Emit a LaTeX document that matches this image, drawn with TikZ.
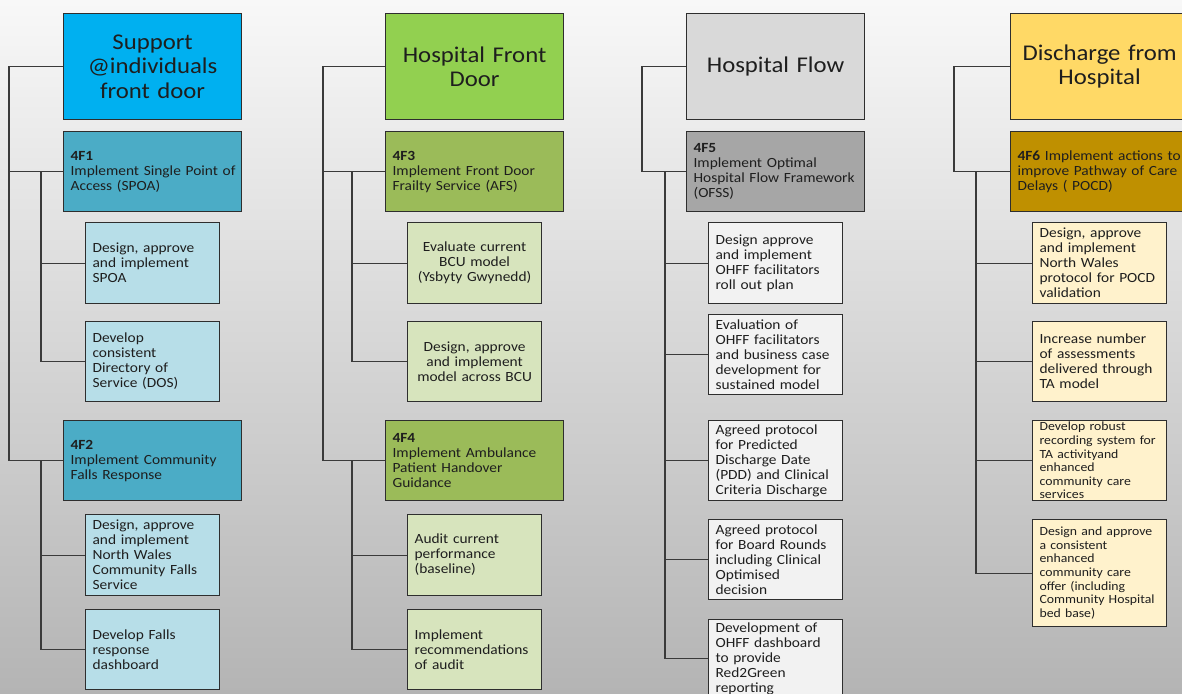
\documentclass[tikz,border=0pt]{standalone}
\usepackage{fontspec}
\setmainfont{Carlito}[FakeStretch=1.1]

\definecolor{bgtop}{HTML}{F8F8F8}
\definecolor{bgbot}{HTML}{B4B4B4}
\definecolor{boxline}{HTML}{2E2E2E}
\definecolor{linkgray}{HTML}{3A3A3A}
\definecolor{inktext}{HTML}{1E1E1E}
% column colours
\definecolor{supphead}{HTML}{00B0F0}
\definecolor{supptask}{HTML}{4BACC6}
\definecolor{suppstep}{HTML}{B7DEE8}
\definecolor{doorhead}{HTML}{92D050}
\definecolor{doortask}{HTML}{9BBB59}
\definecolor{doorstep}{HTML}{D7E4BD}
\definecolor{flowhead}{HTML}{D9D9D9}
\definecolor{flowtask}{HTML}{A6A6A6}
\definecolor{flowstep}{HTML}{F2F2F2}
\definecolor{dischead}{HTML}{FFD966}
\definecolor{disctask}{HTML}{BF9000}
\definecolor{discstep}{HTML}{FFF2CC}

\tikzset{
  headbox/.style={draw=boxline, line width=1.2pt, anchor=north west,
    minimum width=178pt, minimum height=106pt, text width=164pt,
    inner xsep=7pt, align=center, text=inktext,
    font=\fontsize{22.5}{24.5}\selectfont},
  taskbox/.style={draw=boxline, line width=1.2pt, anchor=north west,
    minimum width=178pt, minimum height=80pt, text width=164pt,
    inner xsep=7pt, inner ysep=2pt, align=left, text=inktext,
    font=\fontsize{14}{15}\selectfont},
  stepbox/.style={draw=boxline, line width=1.2pt, anchor=north west,
    minimum width=134pt, minimum height=80pt, text width=120pt,
    inner xsep=7pt, inner ysep=2pt, align=left, text=inktext,
    font=\fontsize{14}{15}\selectfont},
  smallstep/.style={stepbox, inner ysep=0pt, font=\fontsize{12.5}{13.6}\selectfont},
  link/.style={draw=linkgray, line width=1.2pt},
}

\begin{document}
\begin{tikzpicture}[x=1pt,y=-1pt]
  \useasboundingbox (0,0) rectangle (1182,693);
  \clip (0,0) rectangle (1182,693);
  \shade[top color=bgtop, bottom color=bgbot] (0,0) rectangle (1182,693);

  % Support @individuals front door
  \begin{scope}[shift={(63,0)}]
    \node[headbox, fill=supphead] (h1) at (0,13) {Support\\@individuals\\front door};
    \node[taskbox, fill=supptask] (f1) at (0,131) {\textbf{4F1}\\\mbox{Implement Single Point of}\\Access (SPOA)};
    \node[stepbox, fill=suppstep, minimum height=81pt] (s11) at (22,222) {Design, approve\\and implement\\SPOA};
    \node[stepbox, fill=suppstep] (s12) at (22,321) {Develop\\consistent\\Directory of\\Service (DOS)};
    \node[taskbox, fill=supptask] (f2) at (0,420) {\textbf{4F2}\\Implement Community\\Falls Response};
    \node[stepbox, fill=suppstep, minimum height=81pt] (s13) at (22,514) {Design, approve\\and implement\\North Wales\\Community Falls\\Service};
    \node[stepbox, fill=suppstep] (s14) at (22,609) {Develop Falls\\response\\dashboard};
  \end{scope}
  \coordinate (o1) at ([xshift=-54pt]h1.west);
  \coordinate (i1) at ([xshift=-22pt]f1.west);
  \coordinate (i2) at ([xshift=-22pt]f2.west);
  \draw[link] (h1.west) -- (o1) |- (f2.west);
  \draw[link] (o1) |- (f1.west);
  \draw[link] (i1) |- (s11.west);
  \draw[link] (i1) |- (s12.west);
  \draw[link] (i2) |- (s13.west);
  \draw[link] (i2) |- (s14.west);

  % Hospital Front Door
  \begin{scope}[shift={(385,0)}]
    \node[headbox, fill=doorhead] (h2) at (0,13) {Hospital Front\\Door};
    \node[taskbox, fill=doortask] (f3) at (0,131) {\textbf{4F3}\\Implement Front Door\\Frailty Service (AFS)};
    \node[stepbox, fill=doorstep, minimum height=81pt, align=center] (s21) at (22,222) {Evaluate current\\BCU model\\(Ysbyty Gwynedd)};
    \node[stepbox, fill=doorstep, align=center] (s22) at (22,321) {Design, approve\\and implement\\model across BCU};
    \node[taskbox, fill=doortask] (f4) at (0,420) {\textbf{4F4}\\Implement Ambulance\\Patient Handover\\Guidance};
    \node[stepbox, fill=doorstep, minimum height=81pt] (s23) at (22,514) {Audit current\\performance\\(baseline)};
    \node[stepbox, fill=doorstep] (s24) at (22,609) {Implement\\recommendations\\of audit};
  \end{scope}
  \coordinate (o2) at ([xshift=-62pt]h2.west);
  \coordinate (i3) at ([xshift=-33pt]f3.west);
  \coordinate (i4) at ([xshift=-33pt]f4.west);
  \draw[link] (h2.west) -- (o2) |- (f4.west);
  \draw[link] (o2) |- (f3.west);
  \draw[link] (i3) |- (s21.west);
  \draw[link] (i3) |- (s22.west);
  \draw[link] (i4) |- (s23.west);
  \draw[link] (i4) |- (s24.west);

  % Hospital Flow
  \begin{scope}[shift={(686,0)}]
    \node[headbox, fill=flowhead] (h3) at (0,13) {Hospital Flow};
    \node[taskbox, fill=flowtask] (f5) at (0,131) {\textbf{4F5}\\Implement Optimal\\Hospital Flow Framework\\(OFSS)};
    \node[stepbox, fill=flowstep, minimum height=81pt] (s31) at (22,222) {Design approve\\and implement\\OHFF facilitators\\roll out plan};
    \node[stepbox, fill=flowstep] (s32) at (22,314) {Evaluation of\\OHFF facilitators\\and business case\\development for\\sustained model};
    \node[stepbox, fill=flowstep] (s33) at (22,420) {Agreed protocol\\for Predicted\\Discharge Date\\(PDD) and Clinical\\Criteria Discharge};
    \node[stepbox, fill=flowstep] (s34) at (22,519) {Agreed protocol\\for Board Rounds\\including Clinical\\Optimised\\decision};
    \node[stepbox, fill=flowstep, minimum height=78pt] (s35) at (22,619) {Development of\\OHFF dashboard\\to provide\\Red2Green\\reporting};
  \end{scope}
  \coordinate (o3) at ([xshift=-44pt]h3.west);
  \coordinate (i5) at ([xshift=-21pt]f5.west);
  \draw[link] (h3.west) -- (o3) |- (f5.west);
  \draw[link] (i5) |- (s35.west);
  \draw[link] (i5) |- (s31.west);
  \draw[link] (i5) |- (s32.west);
  \draw[link] (i5) |- (s33.west);
  \draw[link] (i5) |- (s34.west);

  % Discharge from Hospital
  \begin{scope}[shift={(1010,0)}]
    \node[headbox, fill=dischead] (h4) at (0,13) {Discharge from\\Hospital};
    \node[taskbox, fill=disctask] (f6) at (0,131) {\textbf{4F6} Implement actions to\\improve Pathway of Care\\Delays ( POCD)};
    \node[stepbox, fill=discstep, minimum height=81pt] (s41) at (22,222) {Design, approve\\and implement\\North Wales\\protocol for POCD\\validation};
    \node[stepbox, fill=discstep] (s42) at (22,321) {Increase number\\of assessments\\delivered through\\TA model};
    \node[smallstep, fill=discstep] (s43) at (22,420) {Develop robust\\recording system for\\TA activityand\\enhanced\\community care\\services};
    \node[smallstep, fill=discstep, minimum height=107pt] (s44) at (22,519) {Design and approve\\a consistent\\enhanced\\community care\\offer (including\\Community Hospital\\bed base)};
  \end{scope}
  \coordinate (o4) at ([xshift=-56pt]h4.west);
  \coordinate (i6) at ([xshift=-34pt]f6.west);
  \draw[link] (h4.west) -- (o4) |- (f6.west);
  \draw[link] (i6) |- (s44.west);
  \draw[link] (i6) |- (s41.west);
  \draw[link] (i6) |- (s42.west);
  \draw[link] (i6) |- (s43.west);
\end{tikzpicture}
\end{document}
